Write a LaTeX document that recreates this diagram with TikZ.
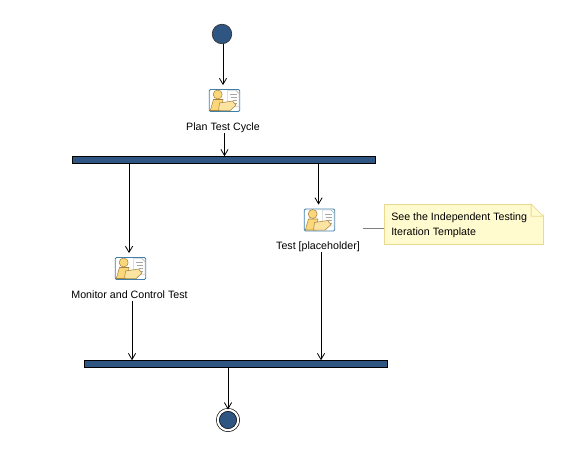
\documentclass[tikz,border=0pt]{standalone}
\usepackage{fontspec}
\setmainfont{Liberation Sans}
\usetikzlibrary{arrows.meta}
\definecolor{umlblue}{HTML}{2F5583}
\definecolor{notefill}{HTML}{FFFBCF}
\definecolor{noteline}{HTML}{EBD98F}
\definecolor{iconline}{HTML}{3F7FA8}
\definecolor{iconyellow}{HTML}{FAD77A}
\definecolor{iconedge}{HTML}{A8823A}
\tikzset{
  flow/.style={-{Straight Barb[length=4.6pt,width=5.4pt]},black,line width=0.6pt},
  bar/.style={draw=black,fill=umlblue,minimum width=227.2pt,minimum height=5pt,inner sep=0pt,line width=0.6pt},
  startdot/.style={circle,draw=black!80,fill=umlblue,minimum size=14.7pt,inner sep=0pt,line width=0.5pt},
  enddot/.style={circle,draw=black,double=white,double distance=1.65pt,fill=umlblue,minimum size=15.3pt,inner sep=0pt,line width=0.5pt},
  iconbox/.style={draw=iconline,fill=white,rounded corners=1pt,minimum width=23pt,minimum height=16.5pt,inner sep=0pt,line width=0.6pt},
  tasklabel/.style={font=\fontsize{8pt}{9.5pt}\selectfont,inner sep=0pt,anchor=base,text depth=2pt},
  pics/worker/.style={code={
    \draw[gray!70,fill=white,line width=0.3pt] (3,-10) -- (11.5,-10) -- (14.5,-7) -- (14.5,6) -- (3,6) -- cycle;
    \draw[gray!70,line width=0.5pt] (5.5,-6) -- (12.5,-6) (6.5,-3) -- (12.5,-3) (8.5,0) -- (12.5,0) (10,3) -- (12.5,3);
    \draw[iconedge,fill=iconyellow,line width=0.4pt] (-14.2,10) -- (-11,-1) -- (-1.5,-1) -- (-3.5,10) -- cycle;
    \draw[iconedge,fill=iconyellow,line width=0.4pt] (-6.8,-6) circle (4.5);
    \draw[iconedge,fill=iconyellow!70!white,line width=0.4pt] (-5,2.5) -- (8,0.5) -- (11.5,4.5) -- (5.5,10.2) -- (-6,10.2) -- cycle;
  }}
}
\begin{document}
\begin{tikzpicture}[x=0.75pt,y=-0.75pt]
  \useasboundingbox (0,0) rectangle (566,453);
  % nodes
  \node (start) [startdot] at (222,34) {};
  \node (plan) [iconbox] at (224.5,100.5) {};
  \node (planlabel) [tasklabel] at (223,130) {Plan Test Cycle};
  \node (fork) [bar] at (224,160) {};
  \node (test) [iconbox] at (319.5,220) {};
  \node (testlabel) [tasklabel] at (318,249) {Test [placeholder]};
  \node (monitor) [iconbox] at (130.5,268.5) {};
  \node (monitorlabel) [tasklabel] at (129.5,298) {Monitor and Control Test};
  \node (join) [bar] at (236,364) {};
  \node (finish) [enddot] at (228,420) {};
  % note with folded corner
  \node (note) [draw=noteline,fill=notefill,minimum width=118.8pt,minimum height=29.6pt,inner sep=0pt,line width=0.6pt] at (463.8,224.2) {};
  \fill[white] ([xshift=-9.2pt]note.north east) -- ([xshift=1pt,yshift=1pt]note.north east) -- ([yshift=-9.2pt]note.north east) -- cycle;
  \draw[noteline,line width=0.6pt] ([xshift=-9.2pt]note.north east) -- ([yshift=-9.2pt]note.north east) -- ([xshift=-9.2pt,yshift=-9.2pt]note.north east) -- cycle;
  \node (notetext) [font=\fontsize{8pt}{11.3pt}\selectfont,align=left,inner sep=0pt,anchor=west] at (391,225) {See the Independent Testing\\Iteration Template};
  \coordinate (noteend) at (363,228);
  % icons
  \pic at (plan) {worker};
  \pic at (test) {worker};
  \pic at (monitor) {worker};
  % connectors
  \draw[flow,shorten >=3pt] (start.south -| 223,0) -- (plan.north -| 223,0);
  \draw[flow] (planlabel.south -| plan) -- (fork.north -| plan);
  \draw[flow,shorten >=3pt] ([xshift=-1.1pt]fork.south -| monitor) -- ([xshift=-1.1pt]monitor.north);
  \draw[flow,shorten >=3pt] ([xshift=-0.7pt]fork.south -| test) -- ([xshift=-0.7pt]test.north);
  \draw[flow] (monitorlabel.south -| 132,0) -- (join.north -| 132,0);
  \draw[flow] (testlabel.south -| 321,0) -- (join.north -| 321,0);
  \draw[flow] (join.south -| finish) -- (finish);
  \draw[gray,line width=0.5pt] (note.west |- noteend) -- (noteend);
\end{tikzpicture}
\end{document}
